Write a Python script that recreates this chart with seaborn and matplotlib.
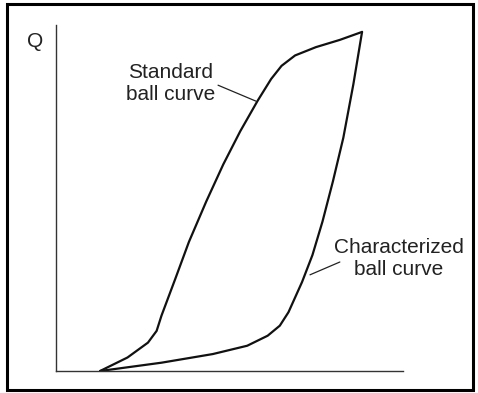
import numpy as np
import pandas as pd
import matplotlib
matplotlib.use("Agg")
import matplotlib.pyplot as plt
from matplotlib.patches import Rectangle
import seaborn as sns

# Curve data (valve opening %, flow Q %)
standard_x = [12.7, 20.6, 26.5, 29.0, 30.4, 34.4, 38.3, 43.3, 48.2, 53.1, 58.1, 62.0, 65.0, 68.9, 74.9, 81.8, 88.2]
standard_q = [0.0, 3.9, 8.2, 11.6, 16.0, 26.7, 37.3, 49.0, 59.7, 69.3, 78.1, 84.4, 88.2, 91.2, 93.6, 95.7, 98.0]
charact_x = [12.7, 30.4, 45.2, 55.1, 61.0, 64.5, 67.0, 70.9, 73.9, 76.8, 79.8, 82.8, 85.7, 88.2]
charact_q = [0.0, 2.4, 4.9, 7.3, 10.2, 13.1, 17.0, 25.7, 33.5, 43.2, 54.8, 67.4, 82.9, 98.0]
labels = ["Standard\nball curve", "Characterized\nball curve"]

sns.set_theme(style="white")
plt.rcParams['font.family'] = ['Liberation Sans', 'DejaVu Sans']

W, H = 478, 393
fig = plt.figure(figsize=(W / 100, H / 100), dpi=100)
ax = fig.add_axes([56 / W, (H - 371) / H, 347 / W, 346 / H])

df = pd.concat([
    pd.DataFrame({"x": standard_x, "q": standard_q, "curve": labels[0]}),
    pd.DataFrame({"x": charact_x, "q": charact_q, "curve": labels[1]}),
])
sns.lineplot(data=df, x="x", y="q", hue="curve", palette=["#111111", "#111111"],
             sort=False, estimator=None, lw=1.6, legend=False, ax=ax)

ax.set_xlim(0, 100)
ax.set_ylim(0, 100)
ax.set_xticks([])
ax.set_yticks([])
ax.set_xlabel("")
ax.set_ylabel("")
for s in ["top", "right"]:
    ax.spines[s].set_visible(False)
for s in ["left", "bottom"]:
    ax.spines[s].set_color("#333333")
    ax.spines[s].set_linewidth(1.0)

# va='baseline' on multi-line text aligns the last line's baseline
txt_kw = dict(fontsize=15, color="#222222", ha="center", va="baseline", multialignment="center")
ax.text(32.9, 78.3, labels[0], **txt_kw)
ax.text(98.8, 27.7, labels[1], **txt_kw)

line_kw = dict(arrowstyle="-", lw=0.9, color="#222222", shrinkA=0, shrinkB=0)
ax.annotate("", xy=(57.6, 78.0), xytext=(46.7, 82.6), arrowprops=line_kw)
ax.annotate("", xy=(73.2, 27.8), xytext=(81.8, 31.5), arrowprops=line_kw)

fig.text(35.5 / W, 1 - 47 / H, "Q", fontsize=15, color="#222222", ha="center", va="baseline")

x0, x1 = 6.5 / W, 473 / W
y0, y1 = 1 - 389.5 / H, 1 - 4 / H
fig.patches.append(Rectangle((x0, y0), x1 - x0, y1 - y0, transform=fig.transFigure,
                             fill=False, edgecolor="black", lw=2.2))

fig.savefig("out.png", dpi=100)
